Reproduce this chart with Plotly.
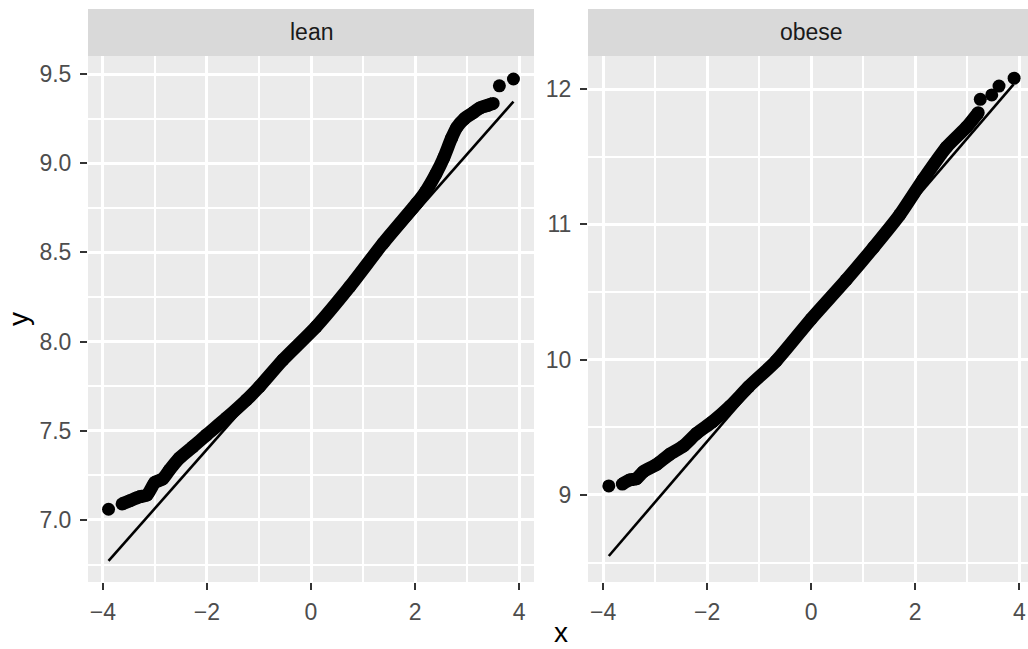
import plotly.graph_objects as go

W, H = 1028, 649

# Facet labels
panels = ["lean", "obese"]

# Sample quantiles (theoretical x, observed y) for each group
lean_x = [-3.89, -3.63, -3.48, -3.29, -3.15, -3.0, -2.85, -2.72, -2.53, -2.27,
          -2.01, -1.63, -1.24, -0.99, -0.54, 0.10, 0.744, 1.385, 2.03, 2.2,
          2.4, 2.55, 2.7, 2.8, 2.95, 3.1, 3.25, 3.4, 3.5, 3.62, 3.89]
lean_y = [7.06, 7.09, 7.108, 7.13, 7.14, 7.21, 7.23, 7.28, 7.346, 7.41,
          7.476, 7.57, 7.673, 7.747, 7.897, 8.084, 8.308, 8.551, 8.775, 8.84,
          8.94, 9.03, 9.14, 9.2, 9.25, 9.28, 9.31, 9.325, 9.335, 9.434, 9.472]

obese_x = [-3.89, -3.63, -3.49, -3.36, -3.23, -2.97, -2.72, -2.46, -2.2, -1.9,
           -1.56, -1.2, -0.674, 0.0, 0.674, 1.2, 1.7, 2.15, 2.6, 2.99,
           3.21, 3.25, 3.47, 3.61, 3.9]
obese_y = [9.066, 9.08, 9.11, 9.12, 9.17, 9.225, 9.30, 9.36, 9.455, 9.54,
           9.655, 9.80, 9.99, 10.30, 10.59, 10.83, 11.07, 11.33, 11.57, 11.72,
           11.825, 11.924, 11.956, 12.022, 12.08]

# Reference lines
lean_line_x = [-3.89, 3.89]
lean_line_y = [6.77, 9.345]
obese_line_x = [-3.89, 3.89]
obese_line_y = [8.548, 12.035]

# Axis ticks
x_ticks = [-4, -2, 0, 2, 4]
lean_ticks = [7.0, 7.5, 8.0, 8.5, 9.0, 9.5]
obese_ticks = [9, 10, 11, 12]

# Contiguous (overlapping) stretch of points for each group
lean_band = slice(1, -2)
obese_band = slice(1, -4)

PT = 13           # point diameter
FONT = "Liberation Sans, Arial, sans-serif"

fig = go.Figure()


def add_panel(xs, ys, band, lx, ly, xa, ya):
    # dense run of overlapping points, drawn as a thick stroke
    fig.add_trace(go.Scatter(
        x=xs[band], y=ys[band], mode="lines",
        line=dict(color="black", width=PT, shape="spline", smoothing=0.6),
        xaxis=xa, yaxis=ya, hoverinfo="skip", showlegend=False))
    fig.add_trace(go.Scatter(
        x=xs, y=ys, mode="markers",
        marker=dict(color="black", size=PT, line=dict(width=0)),
        xaxis=xa, yaxis=ya, showlegend=False))
    fig.add_trace(go.Scatter(
        x=lx, y=ly, mode="lines", line=dict(color="black", width=2.6),
        xaxis=xa, yaxis=ya, showlegend=False))


add_panel(lean_x, lean_y, lean_band, lean_line_x, lean_line_y, "x", "y")
add_panel(obese_x, obese_y, obese_band, obese_line_x, obese_line_y, "x2", "y2")

# panel geometry in pixels
L1, R1 = 88, 534
L2, R2 = 588, 1028
TOP, BOT = 56, 582
STRIP_TOP = 9


def px(x):
    return x / W


def py(y):
    return (H - y) / H


grid = dict(showgrid=True, gridcolor="white", gridwidth=3, zeroline=False,
            ticks="outside", ticklen=7, tickwidth=2, tickcolor="#333333",
            tickfont=dict(family=FONT, size=23, color="#4D4D4D"),
            showline=False)

xcommon = dict(grid, tickvals=x_ticks, ticktext=[f"{v}".replace("-", "\u2212") for v in x_ticks],
               ticklabelstandoff=2,
               minor=dict(tickvals=[-3, -1, 1, 3], showgrid=True,
                          gridcolor="white", gridwidth=1.5, ticks=""))

fig.update_layout(
    width=W, height=H,
    margin=dict(l=0, r=0, t=0, b=0),
    paper_bgcolor="white", plot_bgcolor="#EBEBEB",
    xaxis=dict(xcommon, domain=[px(L1), px(R1)], range=[-4.285, 4.285], anchor="y"),
    xaxis2=dict(xcommon, domain=[px(L2), px(R2)], range=[-4.29, 4.167], anchor="y2"),
    yaxis=dict(grid, domain=[py(BOT), py(TOP)], range=[6.652, 9.601],
               tickvals=lean_ticks, ticktext=[f"{v:.1f}" for v in lean_ticks],
               ticklabelstandoff=4,
               minor=dict(tickvals=[6.75, 7.25, 7.75, 8.25, 8.75, 9.25], showgrid=True,
                          gridcolor="white", gridwidth=1.5, ticks=""),
               anchor="x"),
    yaxis2=dict(grid, domain=[py(BOT), py(TOP)], range=[8.356, 12.244],
                tickvals=obese_ticks, ticktext=[str(v) for v in obese_ticks],
                ticklabelstandoff=4,
                minor=dict(tickvals=[8.5, 9.5, 10.5, 11.5], showgrid=True,
                           gridcolor="white", gridwidth=1.5, ticks=""),
                anchor="x2"),
)

# facet strips
for (l, r), name in zip([(L1, R1), (L2, R2 + 10)], panels):
    fig.add_shape(type="rect", xref="paper", yref="paper",
                  x0=px(l), x1=px(r), y0=py(TOP), y1=py(STRIP_TOP),
                  fillcolor="#D9D9D9", line=dict(width=0), layer="below")

fig.add_annotation(text=panels[0], xref="x", yref="paper", x=0, y=py((TOP + STRIP_TOP) / 2),
                   showarrow=False, font=dict(family=FONT, size=23, color="#1A1A1A"),
                   xanchor="center", yanchor="middle")
fig.add_annotation(text=panels[1], xref="x2", yref="paper", x=0, y=py((TOP + STRIP_TOP) / 2),
                   showarrow=False, font=dict(family=FONT, size=23, color="#1A1A1A"),
                   xanchor="center", yanchor="middle")

# axis titles
fig.add_annotation(text="x", xref="paper", yref="paper", x=px(561), y=0,
                   showarrow=False, font=dict(family=FONT, size=28, color="black"),
                   xanchor="center", yanchor="bottom", borderpad=0)
fig.add_annotation(text="y", xref="paper", yref="paper", x=px(18), y=py(319),
                   showarrow=False, textangle=-90,
                   font=dict(family=FONT, size=28, color="black"),
                   xanchor="center", yanchor="middle")

fig.write_html("out.html")
